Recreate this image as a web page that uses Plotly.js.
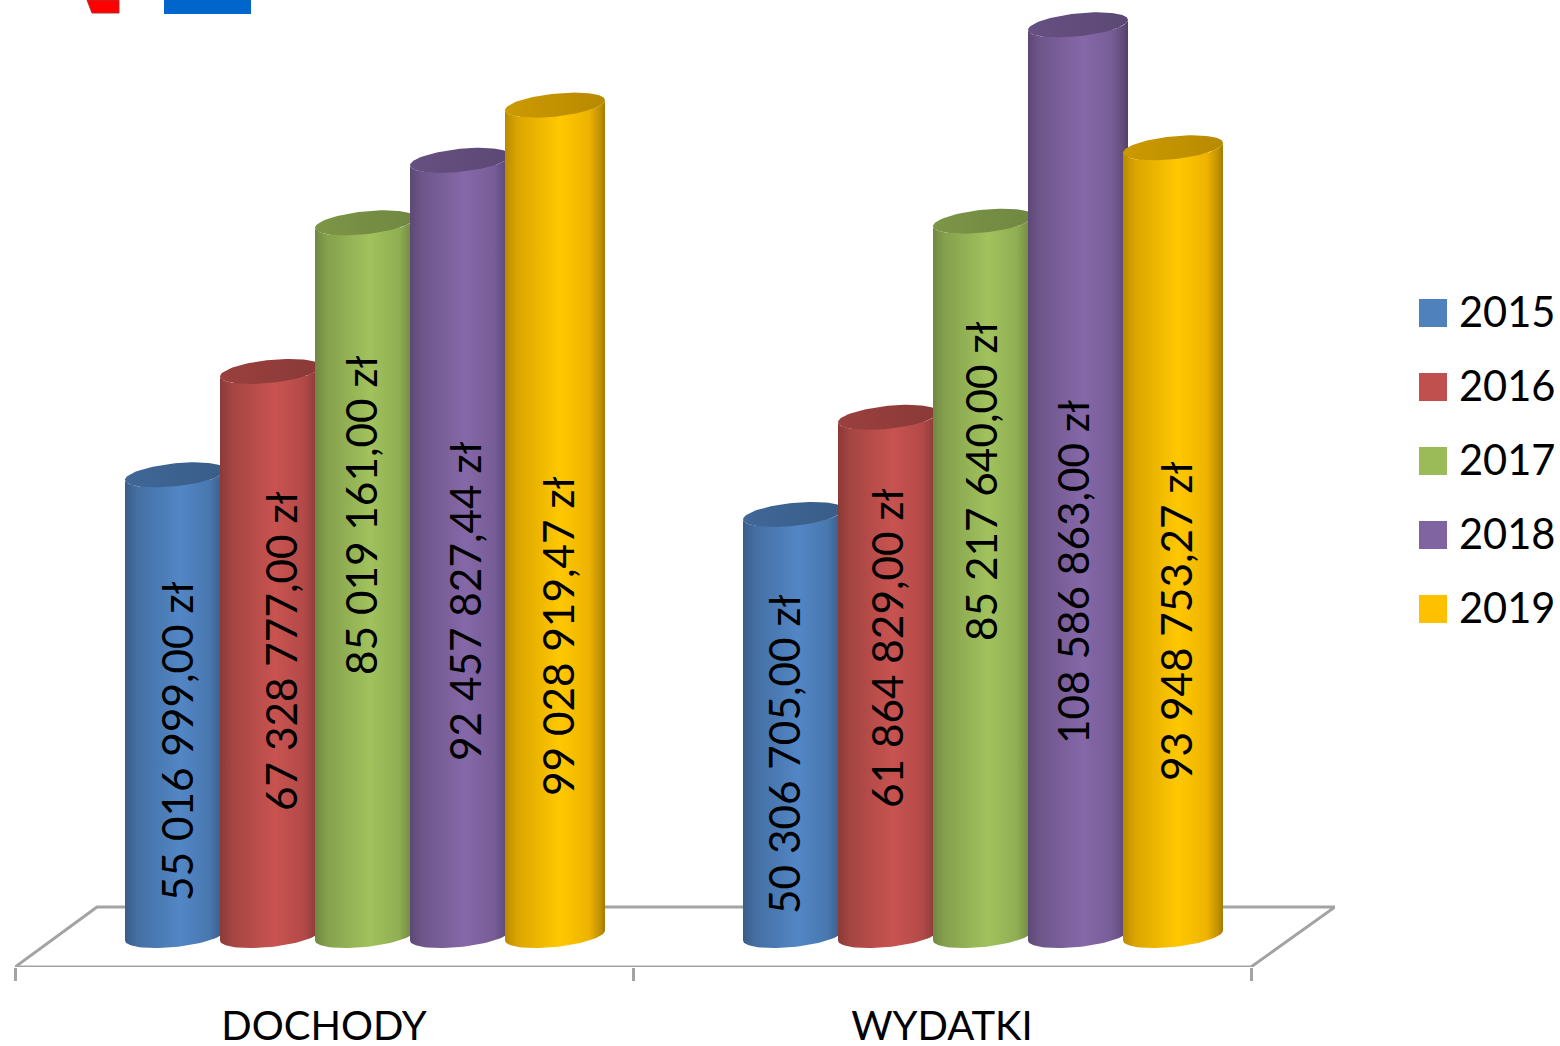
<!DOCTYPE html>
<html>
<head>
<meta charset="utf-8">
<script src="https://cdn.plot.ly/plotly-3.0.1.min.js"></script>
<style>html,body{margin:0;padding:0;background:#fff;overflow:hidden}</style>
</head>
<body>
<div id="chart" style="width:1560px;height:1046px"></div>
<script>
const categories = ["DOCHODY", "WYDATKI"];
const years = ["2015", "2016", "2017", "2018", "2019"];
const colors = ["#4f81bd", "#c0504d", "#9bbb59", "#8064a2", "#ffc000"];
const dochody = [55016999.00, 67328777.00, 85019161.00, 92457827.44, 99028919.47];
const wydatki = [50306705.00, 61864829.00, 85217640.00, 108586863.00, 93948753.27];
const dochodyLabels = ["55 016 999,00 zł", "67 328 777,00 zł", "85 019 161,00 zł", "92 457 827,44 zł", "99 028 919,47 zł"];
const wydatkiLabels = ["50 306 705,00 zł", "61 864 829,00 zł", "85 217 640,00 zł", "108 586 863,00 zł", "93 948 753,27 zł"];

// Placement of the hand-positioned value labels in the source chart (page pixels)
const labelXPx = [[176, 280, 360, 464, 557], [783, 886, 980, 1072, 1175]];
const labelYPx = [[741, 651, 515, 601, 636], [754, 648, 481, 572, 621]];

// Scale: page pixels <-> axis units
const FONT = "Lato, Carlito, sans-serif";
const zeroPx = 937, pxPerZl = 8.4e-6, catPx0 = 324, pxPerCat = 618;
const yOf = p => (zeroPx - p) / pxPerZl;
const xOf = p => (p - catPx0) / pxPerCat;
const yPerPx = 1 / pxPerZl, xPerPx = 1 / pxPerCat;

const plotL = 15, plotR = 1335, plotB = 967;
const step = 95 * xPerPx, cylW = 100 * xPerPx, firstOffset = (125 - catPx0) * xPerPx;
const slopePx = 5, ryPx = 11.5, bottomLiftPx = 1.5;

function shade(hex, f) {
  const n = parseInt(hex.slice(1), 16);
  const c = [n >> 16, (n >> 8) & 255, n & 255].map(v => Math.min(255, Math.round(v * f)));
  return "rgb(" + c.join(",") + ")";
}
const bodyScale = c => [[0, shade(c, .72)], [.12, shade(c, .86)], [.55, shade(c, 1.04)], [.84, shade(c, .93)], [.95, shade(c, .76)], [1, shade(c, .64)]];
const capScale = c => [[0, shade(c, .80)], [.5, shade(c, .76)], [1, shade(c, .72)]];

function ellipsePoint(cx, cy, t) {
  const ct = Math.cos(t), st = Math.sin(t);
  return [cx + ct * cylW / 2, cy + (ct * slopePx + st * ryPx) * yPerPx];
}
function cylinderTraces(catIdx, sIdx, value) {
  const cx = catIdx + firstOffset + sIdx * step + cylW / 2;
  const bx = [], by = [], tx = [], ty = [];
  const N = 48;
  for (let i = 0; i <= N; i++) {           // front of the bottom rim
    const p = ellipsePoint(cx, bottomLiftPx * yPerPx, Math.PI + (Math.PI * i) / N);
    bx.push(p[0]); by.push(p[1]);
  }
  for (let i = 0; i <= N; i++) {           // back along the top rim
    const p = ellipsePoint(cx, value, (Math.PI * i) / N * -1 + 2 * Math.PI);
    bx.push(p[0]); by.push(p[1]);
  }
  for (let i = 0; i <= 2 * N; i++) {
    const p = ellipsePoint(cx, value, (Math.PI * i) / N);
    tx.push(p[0]); ty.push(p[1]);
  }
  const base = {type: "scatter", mode: "lines", fill: "toself", line: {width: 0}, hoverinfo: "skip", showlegend: false, cliponaxis: false};
  return [
    Object.assign({}, base, {x: bx, y: by, fillgradient: {type: "horizontal", colorscale: bodyScale(colors[sIdx])}}),
    Object.assign({}, base, {x: tx, y: ty, fillgradient: {type: "horizontal", colorscale: capScale(colors[sIdx])}})
  ];
}

const traces = [];
// Underlying bars (hidden core of each cylinder)
years.forEach((yr, s) => {
  const w = 70 * xPerPx;
  traces.push({
    type: "bar", name: yr, x: [0, 1], y: [dochody[s], wydatki[s]],
    base: bottomLiftPx * yPerPx,
    width: w, offset: firstOffset + s * step + cylW / 2 - w / 2,
    marker: {color: colors[s], line: {width: 0}}, showlegend: false, hoverinfo: "skip"
  });
  traces[traces.length - 1].y = [dochody[s] - bottomLiftPx * yPerPx, wydatki[s] - bottomLiftPx * yPerPx];
});
// Floor
traces.push({
  type: "scatter", mode: "lines", hoverinfo: "skip", showlegend: false, cliponaxis: false,
  x: [xOf(15), xOf(1251), xOf(1335), xOf(97), xOf(15)],
  y: [yOf(967), yOf(967), yOf(907), yOf(907), yOf(967)],
  line: {color: "#a3a3a3", width: 3}
});
// Cylinders, left to right
[dochody, wydatki].forEach((vals, c) => {
  vals.forEach((v, s) => cylinderTraces(c, s, v).forEach(t => traces.push(t)));
});

const annotations = [];
[dochodyLabels, wydatkiLabels].forEach((labs, c) => {
  labs.forEach((txt, s) => annotations.push({
    text: txt, x: xOf(labelXPx[c][s]), y: yOf(labelYPx[c][s]), xref: "x", yref: "y",
    textangle: -90, showarrow: false, xanchor: "center", yanchor: "middle",
    font: {family: FONT, size: 42.3, color: "#000"}
  }));
});

// Legend, drawn at source scale
const W = plotR - plotL, H = plotB;
const pxX = p => (p - plotL) / W, pxY = p => (plotB - p) / H;
const shapes = [];
years.forEach((yr, i) => {
  const cy = 313 + i * 74;
  shapes.push({type: "rect", xref: "paper", yref: "paper", x0: pxX(1419), x1: pxX(1447), y0: pxY(cy - 14), y1: pxY(cy + 14), fillcolor: colors[i], line: {width: 0}});
  annotations.push({text: yr, xref: "paper", yref: "paper", x: pxX(1459), y: pxY(cy - 2), xanchor: "left", yanchor: "middle", showarrow: false, xshift: -2,
    font: {family: FONT, size: 41.6, color: "#000"}});
});
// Cropped logo fragments at the top edge
shapes.push({type: "rect", xref: "paper", yref: "paper", x0: pxX(164), x1: pxX(251), y0: pxY(14), y1: pxY(0), fillcolor: "#0066cc", line: {width: 0}});
shapes.push({type: "path", xref: "paper", yref: "paper",
  path: `M ${pxX(87)} ${pxY(0)} L ${pxX(92)} ${pxY(13)} L ${pxX(119)} ${pxY(13)} L ${pxX(119)} ${pxY(0)} Z`,
  fillcolor: "#ff0000", line: {color: "#a33", width: 1}});

const layout = {
  width: 1560, height: 1046, paper_bgcolor: "#fff", plot_bgcolor: "rgba(0,0,0,0)",
  margin: {l: plotL, r: 1560 - plotR, t: 0, b: 1046 - plotB, pad: 0},
  showlegend: false, barmode: "overlay", hovermode: false,
  xaxis: {
    range: [xOf(plotL), xOf(plotR)], tickmode: "array", tickvals: [0, 1], ticktext: categories,
    ticks: "", showgrid: false, zeroline: false, showline: false, automargin: false,
    ticklabelstandoff: 32, tickfont: {family: FONT, size: 40, color: "#000"},
    minor: {tickmode: "array", tickvals: [-0.5, 0.5, 1.5], ticks: "outside", ticklen: 13, tickwidth: 3, tickcolor: "#a3a3a3", showgrid: false}
  },
  yaxis: {range: [yOf(plotB), yOf(0)], visible: false, showgrid: false, zeroline: false, automargin: false},
  annotations, shapes
};
Plotly.newPlot("chart", traces, layout, {displayModeBar: false, responsive: false});
</script>
</body>
</html>
